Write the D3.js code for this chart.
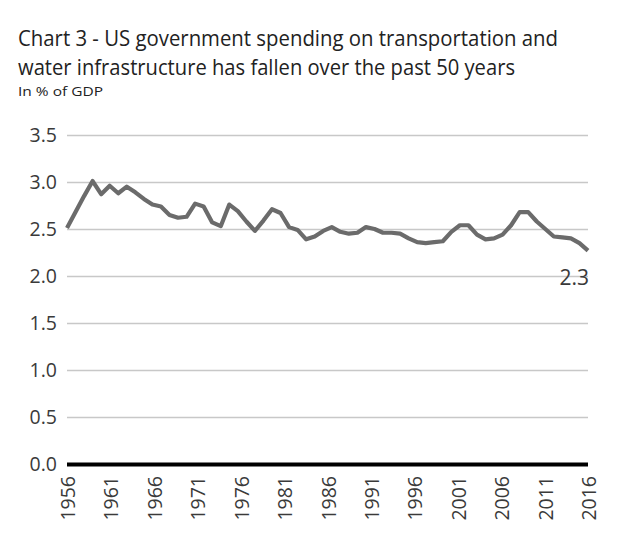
<!DOCTYPE html>
<html><head><meta charset="utf-8">
<script src="https://cdn.jsdelivr.net/npm/d3@7"></script>
<style>body{margin:0;background:#fff}svg{display:block}</style>
</head><body>
<svg id="chart" width="620" height="539"></svg>
<script>
const years = [1956,1957,1958,1959,1960,1961,1962,1963,1964,1965,1966,1967,1968,1969,1970,1971,1972,1973,1974,1975,1976,1977,1978,1979,1980,1981,1982,1983,1984,1985,1986,1987,1988,1989,1990,1991,1992,1993,1994,1995,1996,1997,1998,1999,2000,2001,2002,2003,2004,2005,2006,2007,2008,2009,2010,2011,2012,2013,2014,2015,2016,2017];
const spending = [2.51,2.68,2.85,3.01,2.87,2.96,2.88,2.95,2.89,2.82,2.76,2.74,2.65,2.62,2.63,2.77,2.74,2.57,2.53,2.76,2.69,2.58,2.48,2.59,2.71,2.67,2.52,2.49,2.39,2.42,2.48,2.52,2.47,2.45,2.46,2.52,2.50,2.46,2.46,2.45,2.40,2.36,2.35,2.36,2.37,2.47,2.54,2.54,2.44,2.39,2.40,2.44,2.54,2.68,2.68,2.58,2.50,2.42,2.41,2.40,2.35,2.27];
const yTicks = [0,0.5,1.0,1.5,2.0,2.5,3.0,3.5];
const xTickLabels = [1956,1961,1966,1971,1976,1981,1986,1991,1996,2001,2006,2011,2016];
const titleLines = ["Chart 3 - US government spending on transportation and","water infrastructure has fallen over the past 50 years"];
const subtitle = "In % of GDP";

const svg = d3.select("#chart");
const font = "'Open Sans', 'Noto Sans', sans-serif";
const pLeft = 67, pRight = 588, pTop = 135, pBottom = 464;

const x = d3.scaleLinear().domain([years[0], years[years.length-1]]).range([pLeft, pRight]);
const xLab = d3.scaleLinear().domain([xTickLabels[0], xTickLabels[xTickLabels.length-1]]).range([pLeft, pRight]);
const y = d3.scaleLinear().domain([0, 3.5]).range([pBottom, pTop]);

// title
const tl = [[46, 540],[75, 497]];
titleLines.forEach((t,i)=>{
  svg.append("text").attr("x",18).attr("y",tl[i][0]).text(t)
    .attr("font-family",font).attr("font-size",21).attr("fill","#222")
    .attr("textLength",tl[i][1]).attr("lengthAdjust","spacingAndGlyphs");
});
svg.append("text").attr("x",18).attr("y",96).text(subtitle)
  .attr("font-family",font).attr("font-size",13.5).attr("fill","#222")
  .attr("textLength",85).attr("lengthAdjust","spacingAndGlyphs");

// y axis + gridlines
const yAxis = svg.append("g").attr("transform",`translate(${pLeft},0)`)
  .call(d3.axisLeft(y).tickValues(yTicks).tickSize(-(pRight-pLeft)).tickPadding(10).tickFormat(d3.format(".1f")));
yAxis.select(".domain").remove();
yAxis.selectAll(".tick line").attr("stroke","#c8c8c8").attr("stroke-width",1.6);
yAxis.selectAll(".tick text").attr("font-family",font).attr("font-size",19.5).attr("fill","#3a3a3a");
yAxis.selectAll(".tick").filter(d=>d===0).select("line").attr("stroke","#000").attr("stroke-width",4);

// x axis labels
const xAxis = svg.append("g").attr("transform",`translate(0,${pBottom})`)
  .call(d3.axisBottom(xLab).tickValues(xTickLabels).tickSize(0).tickFormat(d3.format("d")));
xAxis.select(".domain").remove();
xAxis.selectAll(".tick text")
  .attr("font-family",font).attr("font-size",19.5).attr("fill","#3a3a3a")
  .attr("text-anchor","end").attr("dominant-baseline","central")
  .attr("dy",null).attr("y",0)
  .attr("transform","translate(0,12) rotate(-90)");

// line
const data = years.map((yr,i)=>({yr, v: spending[i]}));
svg.append("path").datum(data)
  .attr("fill","none").attr("stroke","#6b6b6b").attr("stroke-width",4.2).attr("stroke-linejoin","round")
  .attr("d", d3.line().x(d=>x(d.yr)).y(d=>y(d.v)));

// end label
const last = data[data.length-1];
svg.append("text").attr("x", x(last.yr)+1).attr("y", y(last.v)+34)
  .attr("text-anchor","end").attr("font-family",font).attr("font-size",21).attr("fill","#3a3a3a")
  .text(d3.format(".1f")(last.v));
</script>
</body></html>
